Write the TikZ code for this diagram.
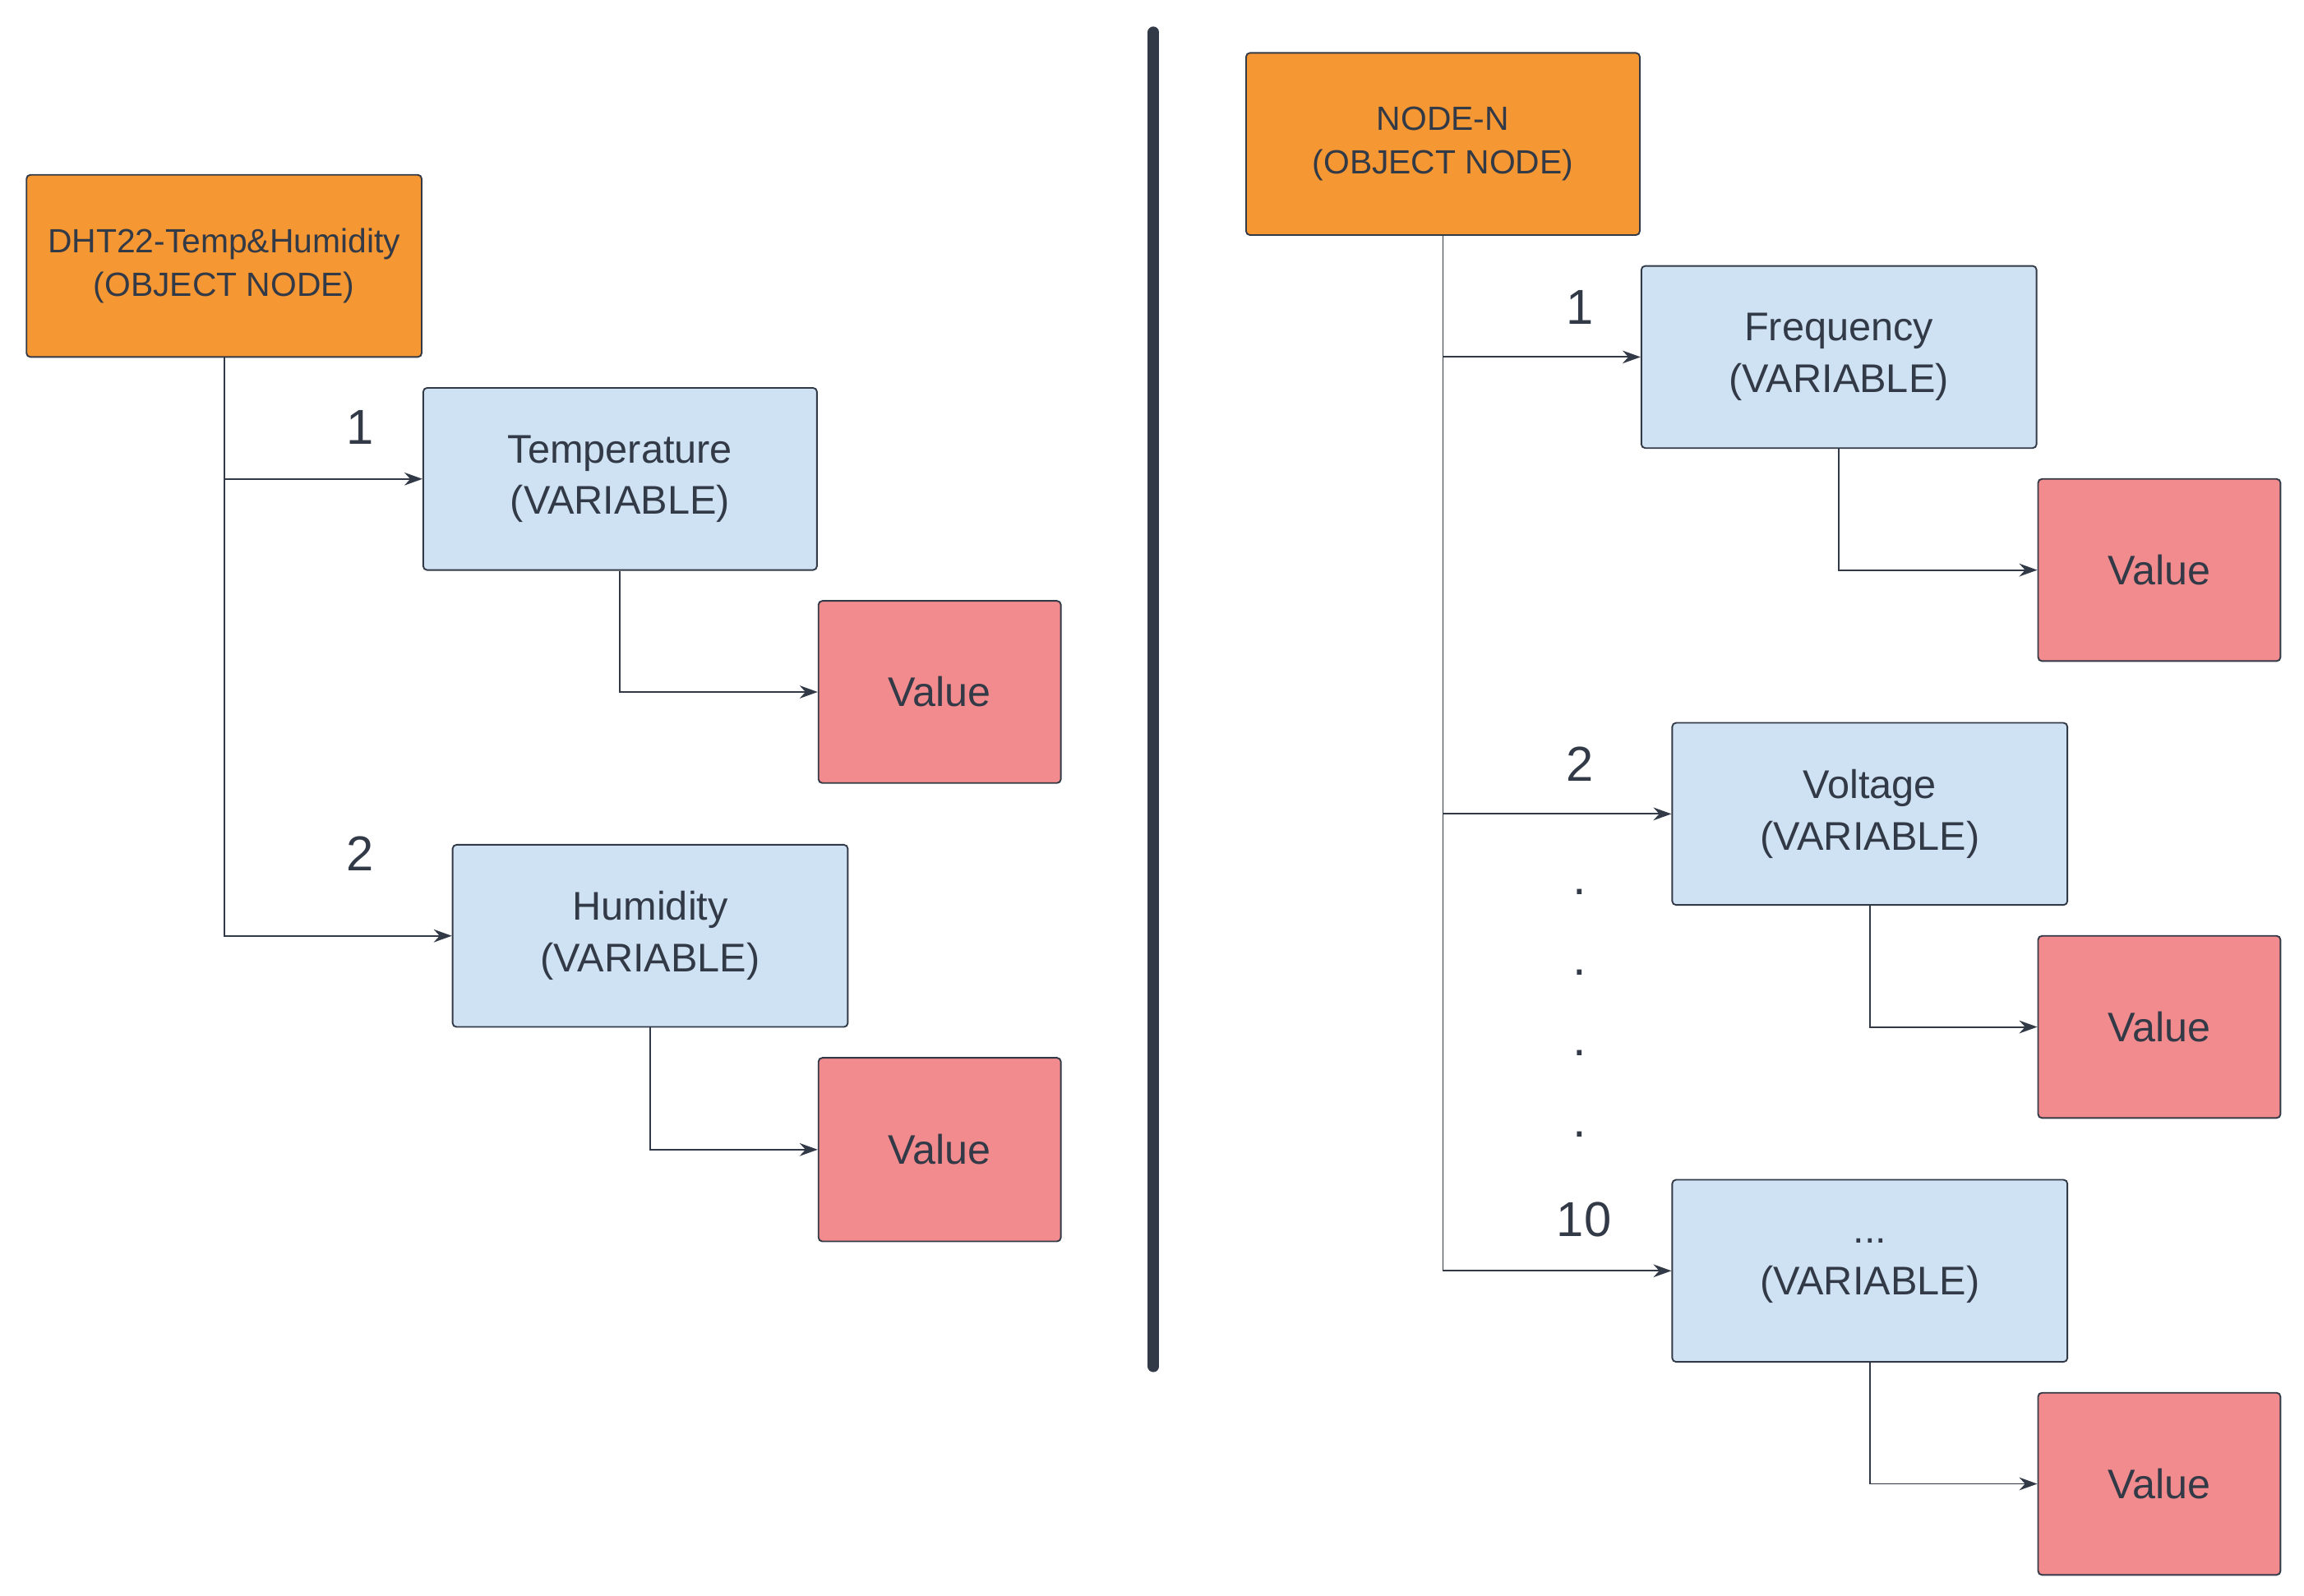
\documentclass[tikz,border=0pt]{standalone}
\usepackage{fontspec}
\setmainfont{Liberation Sans}
\usetikzlibrary{arrows.meta}
\definecolor{txt}{HTML}{333A47}
\definecolor{org}{HTML}{F59733}
\definecolor{blu}{HTML}{CFE2F3}
\definecolor{rd}{HTML}{F28B8D}
\begin{document}
\begin{tikzpicture}[x=0.02cm,y=-0.02cm,
  box/.style={draw=txt,line width=0.6pt,rounded corners=1.5pt,text=txt,align=center,inner sep=0pt},
  obj/.style={box,fill=org,font=\fontsize{13}{17}\selectfont},
  var/.style={box,fill=blu,font=\fontsize{15.5}{20}\selectfont},
  val/.style={box,fill=rd,font=\fontsize{16}{20}\selectfont},
  conn/.style={draw=txt,line width=0.6pt,-{Stealth[length=7pt,width=5pt]}},
  num/.style={text=txt,font=\fontsize{19}{22}\selectfont}]
\useasboundingbox (0,0) rectangle (1568,1086);
\newcommand{\bx}[6]{\node[#1,minimum width={(#4-#3)*0.02cm},minimum height={(#6-#5)*0.02cm}] (#2) at ({(#3+#4)/2},{(#5+#6)/2}) {};}
\node[obj,minimum width=5.38cm,minimum height=2.48cm] (o1) at (152.5,181) {DHT22-Temp\&Humidity\\(OBJECT NODE)};
\node[obj,minimum width=5.36cm,minimum height=2.48cm] (o2) at (982,98) {NODE-N\\(OBJECT NODE)};
\node[var,minimum width=5.36cm,minimum height=2.48cm] (t) at (422,326) {Temperature\\(VARIABLE)};
\node[var,minimum width=5.38cm,minimum height=2.48cm] (h) at (442.5,637) {Humidity\\(VARIABLE)};
\node[var,minimum width=5.38cm,minimum height=2.48cm] (f) at (1251.5,243) {Frequency\\(VARIABLE)};
\node[var,minimum width=5.38cm,minimum height=2.48cm] (v) at (1272.5,554) {Voltage\\(VARIABLE)};
\node[var,minimum width=5.38cm,minimum height=2.48cm] (x) at (1272.5,865) {...\\(VARIABLE)};
\node[val,minimum width=3.3cm,minimum height=2.48cm] (a1) at (639.5,471) {Value};
\node[val,minimum width=3.3cm,minimum height=2.5cm] (a2) at (639.5,782.5) {Value};
\node[val,minimum width=3.3cm,minimum height=2.48cm] (b1) at (1469.5,388) {Value};
\node[val,minimum width=3.3cm,minimum height=2.48cm] (b2) at (1469.5,699) {Value};
\node[val,minimum width=3.3cm,minimum height=2.48cm] (b3) at (1469.5,1010) {Value};
\draw[conn] (o1.south) |- (t.west);
\draw[conn] (o1.south) |- (h.west);
\draw[conn] (t.south) |- (a1.west);
\draw[conn] (h.south) |- (a2.west);
\draw[conn] (o2.south) |- (f.west);
\draw[conn] (o2.south) |- (v.west);
\draw[conn] (o2.south) |- (x.west);
\draw[conn] (f.south) |- (b1.west);
\draw[conn] (v.south) |- (b2.west);
\draw[conn] (x.south) |- (b3.west);
\coordinate (d1) at (785,22); \coordinate (d2) at (785,930);
\draw[txt,line width=4.5pt,line cap=round] (d1) -- (d2);
\node[num] (n1) at (245,291) {1};
\node[num] (n2) at (245,581) {2};
\node[num] (m1) at (1075,209) {1};
\node[num] (m2) at (1075,520) {2};
\node[num] (m10) at (1078,830) {10};
\foreach \yy [count=\i] in {607,662,717,772} \node[num] (dot\i) at (1075,\yy) {.};
\end{tikzpicture}
\end{document}
